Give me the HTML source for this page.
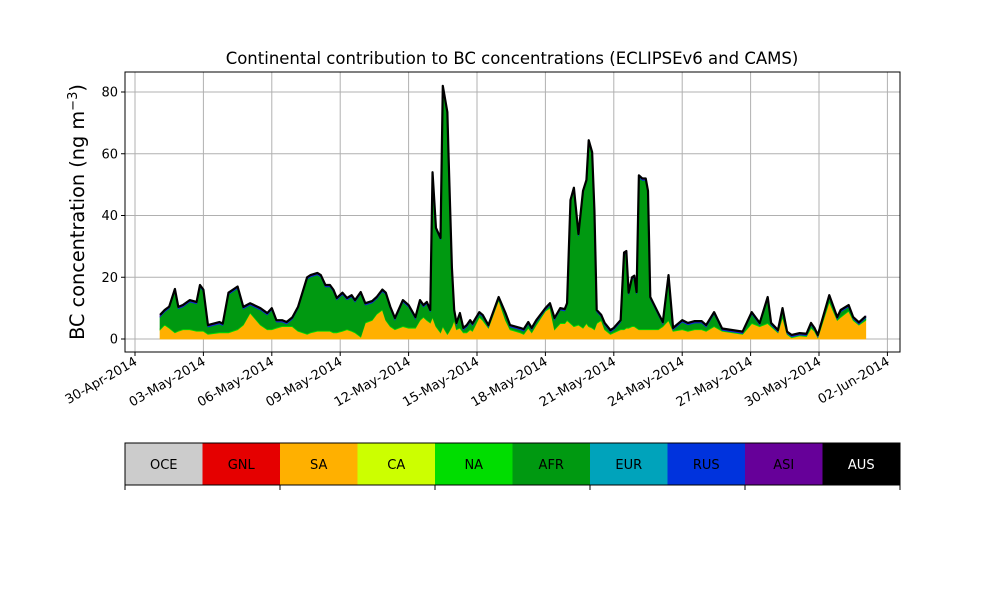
<!DOCTYPE html>
<html><head><meta charset="utf-8"><style>
body{margin:0;background:#fff;font-family:"Liberation Sans","DejaVu Sans",sans-serif}
svg text{font-family:"DejaVu Sans","Liberation Sans",sans-serif}
</style></head><body>
<svg id="chart" width="1000" height="600" xmlns="http://www.w3.org/2000/svg">
<text x="512" y="64" font-size="16.5" text-anchor="middle">Continental contribution to BC concentrations (ECLIPSEv6 and CAMS)</text>
<text transform="translate(84,212) rotate(-90)" font-size="19.3" text-anchor="middle">BC concentration (ng m<tspan baseline-shift="super" font-size="13">−3</tspan>)</text>
<g id="grid"></g><g id="areas"></g><g id="axes"></g><g id="cbar"></g>
</svg>
<script>
const times=[0.1,0.3,0.5,0.75,0.9,1.1,1.4,1.7,1.85,2.0,2.2,2.7,2.85,3.1,3.5,3.75,4.05,4.5,4.8,5.0,5.2,5.45,5.65,5.9,6.15,6.55,6.7,7.0,7.15,7.35,7.55,7.7,7.85,8.1,8.3,8.5,8.65,8.9,9.1,9.4,9.6,9.85,10.0,10.2,10.4,10.75,11.0,11.3,11.5,11.65,11.8,11.95,12.05,12.2,12.4,12.5,12.7,12.75,12.9,13.0,13.1,13.25,13.4,13.55,13.7,13.8,14.1,14.25,14.5,14.95,15.25,15.45,15.9,16.05,16.25,16.4,16.6,17.0,17.2,17.4,17.65,17.85,17.95,18.1,18.25,18.45,18.65,18.8,18.9,19.05,19.15,19.25,19.45,19.6,19.85,20.0,20.3,20.45,20.55,20.65,20.8,20.9,21.0,21.1,21.25,21.4,21.5,21.6,21.95,22.15,22.4,22.6,23.0,23.25,23.55,23.85,24.05,24.4,24.75,25.65,26.05,26.4,26.75,26.9,27.2,27.4,27.6,27.8,28.15,28.45,28.65,28.8,28.95,29.45,29.8,29.95,30.3,30.5,30.75,31.05];
const total=[7.8,9.4,10.5,16.2,10.4,11,12.6,12,17.5,16,4.5,5.5,5,15,17,10.4,11.6,10,8.4,10,6.1,6.1,5.5,7,10.4,20,20.7,21.4,20.7,17.5,17.5,16,13.3,15,13.3,14.2,12.6,15.2,11.6,12.3,13.6,16,15,10.4,6.8,12.6,11,7.1,12.6,11,12,9.4,54,36,32.7,82,73.5,60,23,9.4,5.2,8.4,3.6,4.5,6.1,5,8.7,7.8,4.5,13.6,8.4,4.5,3.6,3.2,5.5,3.6,6.1,10,11.6,6.8,10,9.7,11.6,45,49,34,48,51.5,64.4,60.5,41.7,9.4,7.8,5.2,2.9,3.6,6.1,28,28.5,15,20,20.5,15.2,53,52,52,48,13.6,8.4,5.5,20.7,3.6,6.1,5.2,5.8,5.8,4.5,8.7,2.9,2.3,8.7,5.2,13.6,5.2,2.3,10,1.9,0.6,1.3,1,5.2,3.6,0.6,14.2,7.1,9.4,11,7.1,5.2,7.4];
const sa=[3,4.5,3.5,2,2.5,3,3,2.5,2.5,2.5,1.5,2,2,2,3,4.5,8.4,4.5,3,3,3.5,4,4,4,2.5,1.5,2,2.5,2.5,2.5,2.5,2,2,2.5,3,2.5,2,0.6,5.2,6,8,9.4,6,4,3,4,3.5,3.5,6,7,6,5.2,7,4,2,4,1.5,2,4,6,3,3.5,2,2,3,2.5,7,6,3.5,12.5,6,3,2,1.5,3.5,2,4.5,9,10,3,5,5,6,5,4,4.5,3.5,5,4,3.5,3,5,6,3,1.5,2,3,3,3.5,3.5,4,4,3.5,3,3,3,3,3,3,4,6,2.5,3,2.5,3,3,2.5,4,2.5,1.5,5,4,5,4,2,7,1.5,0.4,1,0.8,3.5,2.5,0.4,12,6,7,9,6,4.5,6];
const yTicks=[0,20,40,60,80];
const xTickLabels=["30-Apr-2014","03-May-2014","06-May-2014","09-May-2014","12-May-2014","15-May-2014","18-May-2014","21-May-2014","24-May-2014","27-May-2014","30-May-2014","02-Jun-2014"];
const xTickDays=[-1,2,5,8,11,14,17,20,23,26,29,32];
const regions=["OCE","GNL","SA","CA","NA","AFR","EUR","RUS","ASI","AUS"];
const regionColors=["#cccccc","#e50000","#ffb000","#ccff00","#00dd00","#009911","#00a3bb","#0033dd","#660099","#000000"];
const NS="http://www.w3.org/2000/svg";
const L=125,R=900,T=72,B=352;
const xs=d=>157.8+d*22.8, ys=v=>339-v*3.0875;
function mk(tag,attrs,parent){const e=document.createElementNS(NS,tag);for(const k in attrs)e.setAttribute(k,attrs[k]);parent.appendChild(e);return e;}
const grid=document.getElementById('grid'),axes=document.getElementById('axes'),areas=document.getElementById('areas'),cbar=document.getElementById('cbar');
xTickDays.forEach((d,i)=>{const x=xs(d);
 const g=mk('line',{x1:x,x2:x,y1:T,y2:B,stroke:'#b0b0b0','stroke-width':1},grid);
 
 mk('line',{x1:x,x2:x,y1:B,y2:B+4,stroke:'#000'},axes);
 const t=mk('text',{transform:`translate(${x+3},${B+12}) rotate(-30)`,'font-size':13,'text-anchor':'end'},axes);
 t.textContent=xTickLabels[i];});
yTicks.forEach(v=>{const y=ys(v);
 const g=mk('line',{x1:L,x2:R,y1:y,y2:y,stroke:'#b0b0b0','stroke-width':1},grid);
 
 mk('line',{x1:L-4,x2:L,y1:y,y2:y,stroke:'#000'},axes);
 const t=mk('text',{x:L-7,y:y+4.5,'font-size':13,'text-anchor':'end'},axes);
 t.textContent=v;});
const fr=mk('rect',{x:L,y:T,width:R-L,height:B-T,fill:'none',stroke:'#000','stroke-width':1},axes);

const small=0.3;
const layers=[
 {name:'SA',vals:sa,c:regionColors[2]},
 {name:'NA',vals:times.map(()=>small),c:regionColors[4]},
 {name:'AFR',vals:total.map((t,i)=>Math.max(0,t-sa[i]-3*small)),c:regionColors[5]},
 {name:'RUS',vals:times.map(()=>small),c:regionColors[7]},
 {name:'ASI',vals:times.map(()=>small),c:regionColors[8]}];
let base=times.map(()=>0);
layers.forEach(ly=>{const top=base.map((b,i)=>b+ly.vals[i]);
 let d='M'+times.map((t,i)=>xs(t)+','+ys(top[i])).join('L');
 for(let i=times.length-1;i>=0;i--)d+='L'+xs(times[i])+','+ys(base[i]);
 const p=mk('path',{d:d+'Z',fill:ly.c,stroke:ly.c,'stroke-width':0.8},areas);
 
 base=top;});
const ln=mk('path',{d:'M'+times.map((t,i)=>xs(t)+','+ys(base[i])).join('L'),fill:'none',stroke:'#000','stroke-width':2.2,'stroke-linejoin':'round'},areas);

const cw=(R-L)/regions.length;
regions.forEach((r,i)=>{const x=L+i*cw;
 const rc=mk('rect',{x:x,y:443,width:cw,height:42,fill:regionColors[i]},cbar);
 
 const t=mk('text',{x:x+cw/2,y:469,'font-size':13,'text-anchor':'middle',fill:r==='AUS'?'#fff':'#000'},cbar);
 t.textContent=r;});
mk('rect',{x:L,y:443,width:R-L,height:42,fill:'none',stroke:'#000','stroke-width':1},cbar);
for(let i=0;i<=5;i++){const x=L+i*(R-L)/5;mk('line',{x1:x,x2:x,y1:485,y2:490,stroke:'#000'},cbar);}
</script>
</body></html>
